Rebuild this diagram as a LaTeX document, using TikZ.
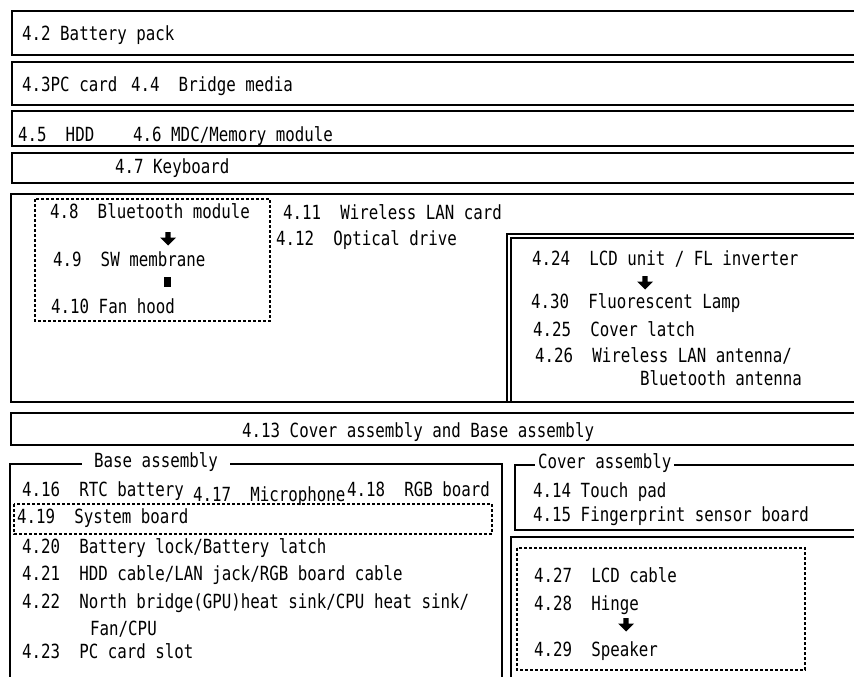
\documentclass[tikz,border=0pt]{standalone}
\usepackage{fontspec}
\newfontfamily\itemfont[FakeStretch=0.81]{DejaVu Sans Mono}
\tikzset{
  lbl/.style={anchor=base west, inner sep=0pt, font=\itemfont\fontsize{19.5}{21}\selectfont},
  ttl/.style={lbl, fill=white, inner ysep=2pt},
  frame/.style={draw, line width=1.7pt},
  dotbox/.style={draw, line width=1.2pt, dash pattern=on 3pt off 2pt},
  dnarrow/.pic={\fill (-2.6,0) -- (2.6,0) -- (2.6,5.5) -- (8,5.5) -- (0,13.5) -- (-8,5.5) -- (-2.6,5.5) -- cycle;}
}
\begin{document}
\begin{tikzpicture}[x=1pt, y=-1pt]
\useasboundingbox (0,0) rectangle (854,677);
\clip (0,0) rectangle (854,677);
\draw[frame] (12,11) rectangle (880,55);
\draw[frame] (12,62) rectangle (880,105);
\draw[frame] (12,111) rectangle (880,146);
\draw[frame] (12,153) rectangle (880,183);
\draw[frame] (11,194) rectangle (880,402);
\draw[dotbox] (35,199) rectangle (270,321);
\draw[frame] (507,234) rectangle (880,402);
\draw[frame] (511,238) rectangle (880,402);
\draw[frame] (11,413) rectangle (880,445);
\draw[frame] (10,464) rectangle (502,700);
\draw[dotbox] (14,504) rectangle (492,534);
\draw[frame] (515,465) rectangle (880,530);
\draw[frame] (511,537) rectangle (880,700);
\draw[dotbox] (517,548) rectangle (805,670);

\node[lbl] (b42) at (22,41) {4.2 Battery pack};
\node[lbl] (b43) at (22,92) {4.3PC card};
\node[lbl] (b44) at (131,92) {4.4~~Bridge media};
\node[lbl] (b45) at (18,141) {4.5~~HDD};
\node[lbl] (b46) at (133,141) {4.6 MDC/Memory module};
\node[lbl] (b47) at (115,173) {4.7 Keyboard};

\node[lbl] (b48) at (50,218) {4.8~~Bluetooth module};
\node[lbl] (b49) at (53,266) {4.9~~SW membrane};
\node[lbl] (b410) at (51,313) {4.10 Fan hood};
\node[lbl] (b411) at (283,219) {4.11~~Wireless LAN card};
\node[lbl] (b412) at (276,245) {4.12~~Optical drive};

\node[lbl] (b424) at (532,265) {4.24~~LCD unit / FL inverter};
\node[lbl] (b430) at (531,308) {4.30~~Fluorescent Lamp};
\node[lbl] (b425) at (533,336) {4.25~~Cover latch};
\node[lbl] (b426) at (535,362) {4.26~~Wireless LAN antenna/};
\node[lbl] (bant) at (640,385) {Bluetooth antenna};

\node[lbl] (b413) at (242,437) {4.13 Cover assembly and Base assembly};

\node[ttl, inner xsep=12pt] (tbase) at (82,467) {Base assembly};
\node[lbl] (b416) at (22,496) {4.16~~RTC battery};
\node[lbl] (b417) at (193,501) {4.17~~Microphone};
\node[lbl] (b418) at (347,496) {4.18~~RGB board};
\node[lbl] (b419) at (17,523) {4.19~~System board};
\node[lbl] (b420) at (22,553) {4.20~~Battery lock/Battery latch};
\node[lbl] (b421) at (22,580) {4.21~~HDD cable/LAN jack/RGB board cable};
\node[lbl] (b422) at (22,608) {4.22~~North bridge(GPU)heat sink/CPU heat sink/};
\node[lbl] (bfan) at (90,635) {Fan/CPU};
\node[lbl] (b423) at (22,658) {4.23~~PC card slot};

\node[ttl, inner xsep=3pt] (tcover) at (535,468) {Cover assembly};
\node[lbl] (b414) at (533,497) {4.14 Touch pad};
\node[lbl] (b415) at (533,521) {4.15 Fingerprint sensor board};
\node[lbl] (b427) at (534,582) {4.27~~LCD cable};
\node[lbl] (b428) at (534,610) {4.28~~Hinge};
\node[lbl] (b429) at (534,656) {4.29~~Speaker};

\coordinate (a1) at (168,232);
\coordinate (a2) at (645,276);
\coordinate (a3) at (626,618);
\coordinate (m1) at (164,277);
\pic at (a1) {dnarrow};
\pic at (a2) {dnarrow};
\pic at (a3) {dnarrow};
\fill (m1) rectangle ++(7,10);
\end{tikzpicture}
\end{document}
